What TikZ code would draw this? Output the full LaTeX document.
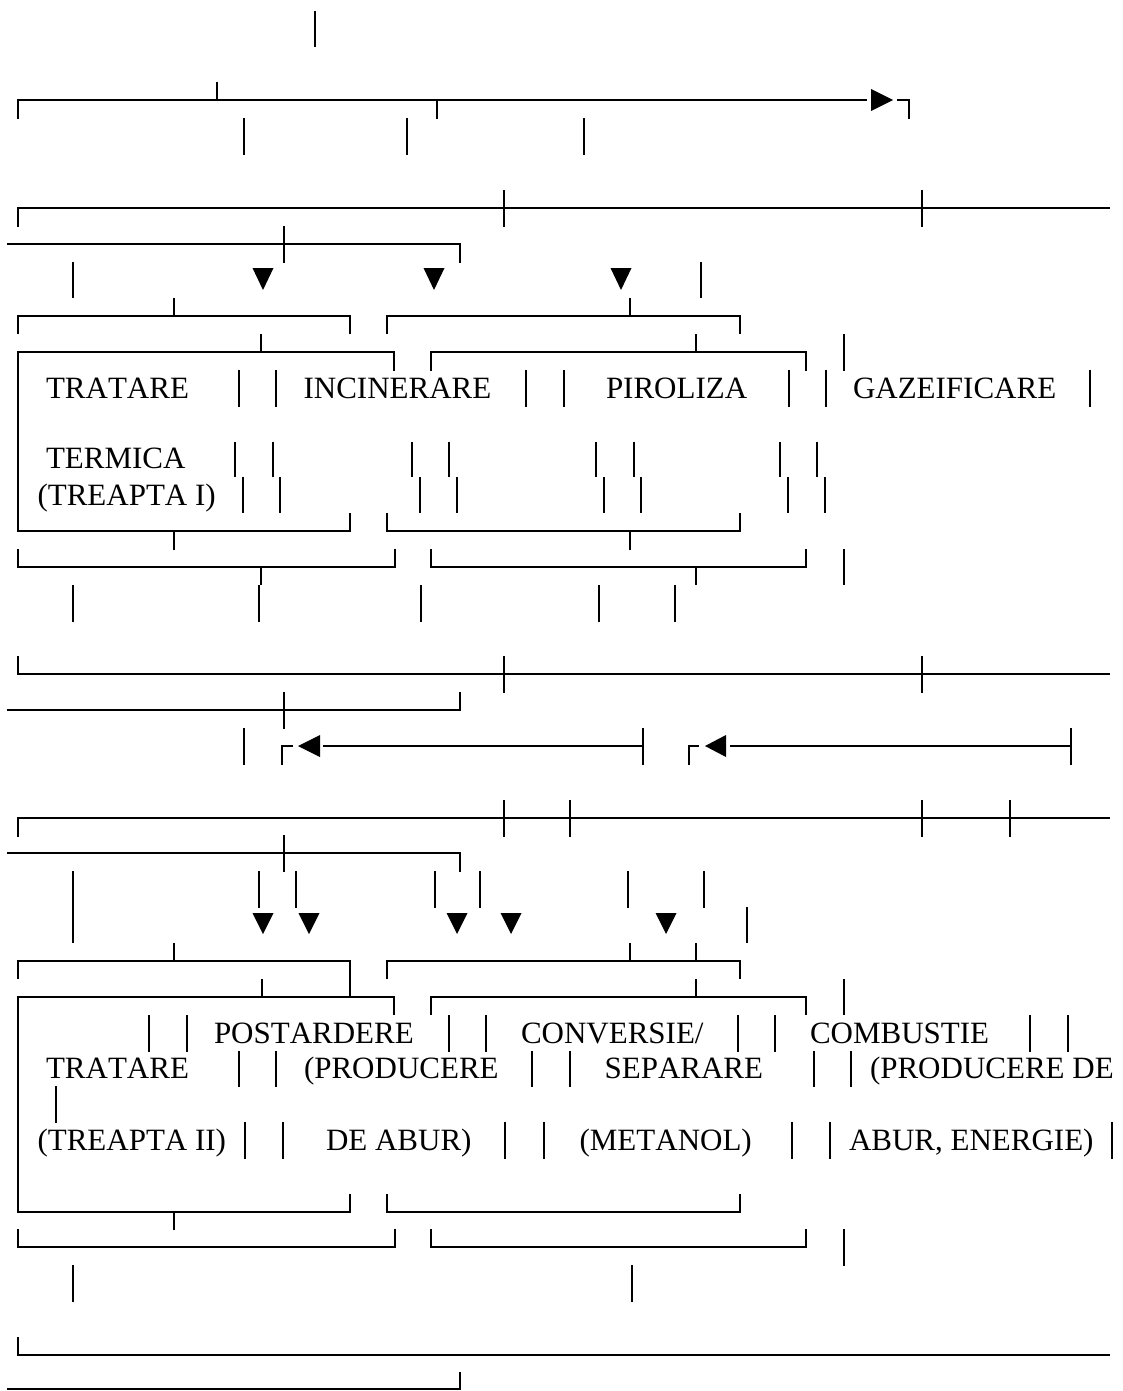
\documentclass[tikz,border=0pt]{standalone}
\usepackage{fontspec}
\setmainfont{Liberation Serif}[Kerning=Off]
\newcommand{\Vseg}[3]{\draw[ln] (#1,#2)--(#1,#3);}
\newcommand{\Dtri}[3]{\fill (#1-10.5,#2)--(#1+10.5,#2)--(#1,#3)--cycle;}
\begin{document}
\begin{tikzpicture}[x=1pt,y=-1pt,
  ln/.style={line width=2pt,line join=miter},
  txt/.style={anchor=base west,inner sep=0pt,outer sep=0pt,font=\fontsize{31}{37}\selectfont}]
\useasboundingbox (0,0) rectangle (1122,1391);
\fill[white] (0,0) rectangle (1122,1391);
% ---------- top ----------
\Vseg{315}{11}{47}
\draw[ln] (18,119)--(18,100)--(867,100);
\fill (871,89)--(871,111)--(893,100)--cycle;
\draw[ln] (897,100)--(909,100)--(909,119);
\Vseg{217}{82}{100}
\Vseg{437}{100}{119}
\foreach \x in {244,407,584} {\Vseg{\x}{118}{155}}
\draw[ln] (18,227)--(18,208)--(1110,208);
\Vseg{504}{190}{227}
\Vseg{922}{190}{227}
\draw[ln] (7,244)--(460,244)--(460,263);
\Vseg{284}{226}{263}
\Vseg{73}{262}{298}
\Vseg{701}{262}{298}
\Dtri{263}{268}{290}
\Dtri{434}{268}{290}
\Dtri{621}{268}{290}
% row G
\draw[ln] (18,334)--(18,316)--(350,316)--(350,334);
\Vseg{174}{298}{316}
\draw[ln] (387,334)--(387,316)--(740,316)--(740,334);
\Vseg{630}{298}{316}
% row H / upper box
\draw[ln] (394,371)--(394,352)--(18,352)--(18,531)--(350,531)--(350,513);
\Vseg{261}{334}{352}
\draw[ln] (431,371)--(431,352)--(806,352)--(806,371);
\Vseg{696}{334}{352}
\Vseg{844}{334}{371}
\foreach \x in {239,276,526,564,789,826,1090} {\Vseg{\x}{370}{407}}
\foreach \x in {235,273,412,449,596,634,780,817} {\Vseg{\x}{442}{477}}
\foreach \x in {243,280,420,457,604,641,788,825} {\Vseg{\x}{477}{513}}
\node[txt] (t1) at (46,398) {TRATARE};
\node[txt] (t2) at (303.6,398) {INCINERARE};
\node[txt] (t3) at (606,398) {PIROLIZA};
\node[txt] (t4) at (853,398) {GAZEIFICARE};
\node[txt] (t5) at (46,468) {TERMICA};
\node[txt] (t6) at (37.5,505) {(TREAPTA I)};
% row L
\draw[ln] (387,513)--(387,531)--(740,531)--(740,513);
\Vseg{174}{531}{550}
\Vseg{630}{531}{550}
% row M
\draw[ln] (18,549)--(18,567)--(395,567)--(395,549);
\Vseg{261}{567}{585}
\Vseg{259}{585}{622}
\draw[ln] (431,549)--(431,567)--(806,567)--(806,549);
\Vseg{696}{567}{585}
\Vseg{844}{549}{585}
\foreach \x in {73,421,599,675} {\Vseg{\x}{585}{622}}
% row O, P
\draw[ln] (18,656)--(18,674)--(1110,674);
\Vseg{504}{656}{693}
\Vseg{922}{656}{693}
\draw[ln] (7,710)--(460,710)--(460,692);
\Vseg{284}{692}{729}
% row Q (return arrows)
\Vseg{244}{728}{765}
\draw[ln] (282,765)--(282,746)--(293,746);
\fill (320,735)--(320,757)--(298,746)--cycle;
\draw[ln] (323,746)--(643,746);
\Vseg{643}{728}{765}
\draw[ln] (689,765)--(689,746)--(699,746);
\fill (726,735)--(726,757)--(705,746)--cycle;
\draw[ln] (730,746)--(1071,746);
\Vseg{1071}{728}{765}
% row R, S
\draw[ln] (18,837)--(18,818)--(1110,818);
\foreach \x in {504,570,922,1010} {\Vseg{\x}{800}{837}}
\draw[ln] (7,853)--(460,853)--(460,872);
\Vseg{284}{835}{872}
\foreach \x in {259,296,435,480,628,704} {\Vseg{\x}{871}{908}}
\Vseg{73}{871}{943}
\Dtri{263}{913}{934}
\Dtri{309}{913}{934}
\Dtri{457}{913}{934}
\Dtri{511}{913}{934}
\Dtri{666}{913}{934}
\Vseg{747}{907}{943}
% row U
\Vseg{174}{943}{961}
\Vseg{630}{943}{961}
\Vseg{696}{943}{961}
\draw[ln] (18,979)--(18,961)--(350,961)--(350,997);
\draw[ln] (387,979)--(387,961)--(740,961)--(740,979);
% row V / lower box
\draw[ln] (394,1015)--(394,997)--(18,997)--(18,1212)--(350,1212)--(350,1194);
\Vseg{262}{979}{997}
\draw[ln] (431,1015)--(431,997)--(806,997)--(806,1015);
\Vseg{696}{979}{997}
\Vseg{844}{979}{1015}
\foreach \x in {149,187,449,486,738,775,1030,1068} {\Vseg{\x}{1015}{1052}}
\foreach \x in {239,276,532,570,814,851} {\Vseg{\x}{1051}{1087}}
\Vseg{56}{1086}{1123}
\foreach \x in {245,283,505,544,792,830,1112} {\Vseg{\x}{1122}{1159}}
\node[txt] (u1) at (214,1043) {POSTARDERE};
\node[txt] (u2) at (521,1043) {CONVERSIE/};
\node[txt] (u3) at (810,1043) {COMBUSTIE};
\node[txt] (u4) at (46,1078) {TRATARE};
\node[txt] (u5) at (304,1078) {(PRODUCERE};
\node[txt] (u6) at (604.6,1078) {SEPARARE};
\node[txt] (u7) at (870,1078) {(PRODUCERE DE};
\node[txt] (u8) at (37.5,1150) {(TREAPTA II)};
\node[txt] (u9) at (326,1150) {DE ABUR)};
\node[txt] (u10) at (579.6,1150) {(METANOL)};
\node[txt] (u11) at (849,1150) {ABUR, ENERGIE)};
% bottom
\draw[ln] (387,1194)--(387,1212)--(740,1212)--(740,1194);
\Vseg{174}{1212}{1230}
\draw[ln] (18,1229)--(18,1247)--(395,1247)--(395,1229);
\draw[ln] (431,1229)--(431,1247)--(806,1247)--(806,1229);
\Vseg{844}{1229}{1266}
\Vseg{73}{1265}{1302}
\Vseg{632}{1265}{1302}
\draw[ln] (18,1337)--(18,1355)--(1110,1355);
\draw[ln] (7,1389)--(460,1389)--(460,1372);
\end{tikzpicture}
\end{document}
